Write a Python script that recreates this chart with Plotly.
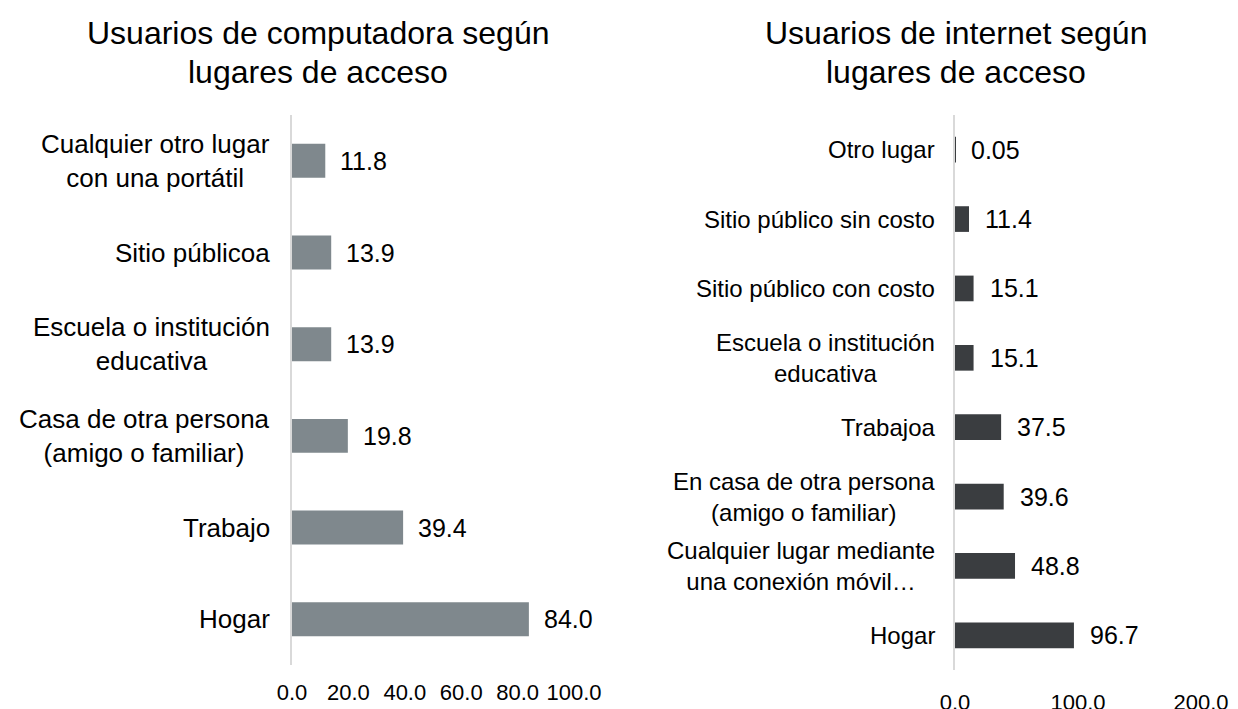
import plotly.graph_objects as go

# Left chart data (bottom to top)
comp_cats = ["Hogar", "Trabajo", "Casa de otra persona<br>(amigo o familiar)",
             "Escuela o institución<br>educativa", "Sitio públicoa",
             "Cualquier otro lugar<br>con una portátil"]
comp_vals = [84.0, 39.4, 19.8, 13.9, 13.9, 11.8]
comp_text = ["84.0", "39.4", "19.8", "13.9", "13.9", "11.8"]
comp_ticks = [0, 20, 40, 60, 80, 100]
comp_ticklabels = ["0.0", "20.0", "40.0", "60.0", "80.0", "100.0"]
comp_title = ["Usuarios de computadora según", "lugares de acceso"]

# Right chart data (bottom to top)
int_cats = ["Hogar", "Cualquier lugar mediante<br>una conexión móvil…",
            "En casa de otra persona<br>(amigo o familiar)", "Trabajoa",
            "Escuela o institución<br>educativa", "Sitio público con costo",
            "Sitio público sin costo", "Otro lugar"]
int_vals = [96.7, 48.8, 39.6, 37.5, 15.1, 15.1, 11.4, 0.05]
int_text = ["96.7", "48.8", "39.6", "37.5", "15.1", "15.1", "11.4", "0.05"]
int_ticks = [0, 100, 200]
int_ticklabels = ["0.0", "100.0", "200.0"]
int_title = ["Usuarios de internet según", "lugares de acceso"]

FONT = "Liberation Sans, Arial, sans-serif"
W, H = 1238, 709
OFF = 8  # page body margin


def px(x):
    return (x - OFF) / W


def py(y):
    return 1 - (y - OFF) / H


fig = go.Figure()
fig.add_trace(go.Bar(x=comp_vals, y=comp_cats, orientation="h",
                     marker=dict(color="#7F888D", line=dict(width=0)),
                     width=0.37, xaxis="x", yaxis="y", showlegend=False,
                     hoverinfo="x+y"))
fig.add_trace(go.Bar(x=int_vals, y=int_cats, orientation="h",
                     marker=dict(color="#3A3D40", line=dict(width=0)),
                     width=0.37, xaxis="x2", yaxis="y2", showlegend=False,
                     hoverinfo="x+y"))

annotations = []
for c, v, t in zip(comp_cats, comp_vals, comp_text):
    annotations.append(dict(x=v, y=c, xref="x", yref="y", text=t, showarrow=False,
                            xanchor="left", xshift=13, font=dict(size=25, color="#000")))
    annotations.append(dict(x=0, y=c, xref="x", yref="y", text=c, showarrow=False,
                            xanchor="right", align="center", xshift=-20,
                            font=dict(size=26, color="#000")))
for c, v, t in zip(int_cats, int_vals, int_text):
    annotations.append(dict(x=v, y=c, xref="x2", yref="y2", text=t, showarrow=False,
                            xanchor="left", xshift=14, font=dict(size=25, color="#000")))
    annotations.append(dict(x=0, y=c, xref="x2", yref="y2", text=c, showarrow=False,
                            xanchor="right", align="center", xshift=-18,
                            font=dict(size=24, color="#000")))

for line, yy in zip(comp_title, [33, 72]):
    annotations.append(dict(x=px(318), y=py(yy), xref="paper", yref="paper",
                            text=line, showarrow=False, xanchor="center",
                            yanchor="middle", font=dict(size=32, color="#000")))
for line, yy in zip(int_title, [33, 72]):
    annotations.append(dict(x=px(956), y=py(yy), xref="paper", yref="paper",
                            text=line, showarrow=False, xanchor="center",
                            yanchor="middle", font=dict(size=32, color="#000")))

fig.update_layout(
    width=W, height=H,
    margin=dict(l=0, r=0, t=0, b=0, autoexpand=False),
    paper_bgcolor="white", plot_bgcolor="white",
    font=dict(family=FONT, color="#000"),
    xaxis=dict(domain=[px(292), px(574)], range=[0, 100], tickvals=comp_ticks,
               ticktext=comp_ticklabels, showgrid=False, zeroline=False,
               showline=False, ticks="", tickfont=dict(size=22),
               ticklabelstandoff=12, anchor="y", automargin=False),
    yaxis=dict(domain=[py(665), py(115)], type="category",
               categoryorder="array", categoryarray=comp_cats,
               showticklabels=False, showgrid=False, zeroline=False,
               showline=True, linecolor="#D9D9D9", linewidth=2, ticks="",
               anchor="x", automargin=False),
    xaxis2=dict(domain=[px(955), px(1201)], range=[0, 200], tickvals=int_ticks,
                ticktext=int_ticklabels, showgrid=False, zeroline=False,
                showline=False, ticks="", tickfont=dict(size=22),
                ticklabelstandoff=17, anchor="y2", automargin=False),
    yaxis2=dict(domain=[py(670), py(115)], type="category",
                categoryorder="array", categoryarray=int_cats,
                showticklabels=False, showgrid=False, zeroline=False,
                showline=True, linecolor="#D9D9D9", linewidth=2, ticks="",
                anchor="x2", automargin=False),
    annotations=annotations,
)

fig.write_html("out.html")
